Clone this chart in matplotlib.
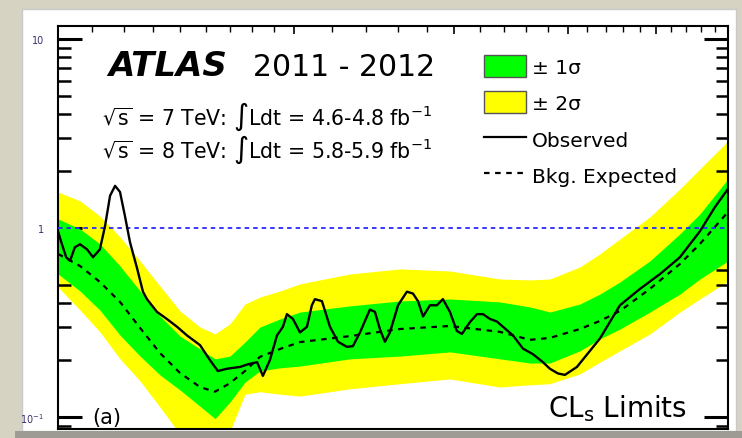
import matplotlib
matplotlib.use("Agg")
import matplotlib.pyplot as plt
from matplotlib.patches import Rectangle, Patch
from matplotlib.lines import Line2D
from matplotlib.ticker import FixedLocator, FixedFormatter, NullFormatter, LogLocator

# Higgs mass points (GeV) and 95% CL limit on sigma/sigma_SM
obs_mass = [110, 111.1, 112.3, 113.4, 114.8, 116.3, 118.4, 120.2, 122.3, 123.9,
            125.5, 127.1, 128.7, 130.3, 132.0, 134.4, 136.4, 137.8, 141.3, 144.9,
            148.7, 152.5, 157.6, 161.6, 164.9, 168.7, 174.4, 177.9, 182.1, 184.8,
            188.1, 191.5, 194.4, 196.4, 199.4, 203.0, 206.6, 209.2, 210.8, 214.6,
            219.0, 223.5, 228.6, 232.1, 236.3, 242.3, 245.4, 248.6, 251.7, 254.9,
            260.2, 266.1, 270.2, 273.7, 277.2, 282.1, 287.1, 291.5, 296.7, 302.0,
            305.9, 312.2, 317.8, 322.6, 328.4, 334.2, 339.4, 348.1, 357.0, 366.1,
            375.5, 382.2, 390.0, 397.0, 409.3, 433.8, 456.4, 480.1, 505.0, 531.2,
            558.8, 580.5, 600]
observed = [0.96, 0.82, 0.70, 0.67, 0.79, 0.82, 0.77, 0.70, 0.77, 1.02,
            1.48, 1.67, 1.55, 1.16, 0.84, 0.61, 0.46, 0.42, 0.36, 0.33,
            0.30, 0.27, 0.24, 0.20, 0.175, 0.18, 0.184, 0.19, 0.195, 0.165,
            0.20, 0.27, 0.30, 0.35, 0.33, 0.28, 0.30, 0.39, 0.42, 0.41,
            0.30, 0.25, 0.235, 0.237, 0.28, 0.37, 0.36, 0.29, 0.25, 0.28,
            0.39, 0.46, 0.45, 0.41, 0.34, 0.39, 0.39, 0.42, 0.36, 0.285,
            0.275, 0.318, 0.35, 0.35, 0.33, 0.32, 0.30, 0.27, 0.23, 0.215,
            0.195, 0.18, 0.17, 0.167, 0.184, 0.26, 0.39, 0.476, 0.57, 0.70,
            0.96, 1.29, 1.61]

exp_mass = [110, 116.3, 122.3, 128.7, 135.4, 142.4, 149.8, 157.6, 163.7, 170.0,
            176.6, 183.4, 193.0, 203.0, 230.4, 261.5, 296.7, 336.8, 363.4, 382.2,
            412.4, 433.8, 456.4, 492.3, 531.2, 558.8, 600]
expected = [0.729, 0.629, 0.518, 0.406, 0.296, 0.218, 0.171, 0.144, 0.136, 0.151,
            0.175, 0.208, 0.229, 0.249, 0.268, 0.292, 0.303, 0.282, 0.256, 0.262,
            0.292, 0.322, 0.364, 0.476, 0.645, 0.823, 1.215]
green_hi = [1.116, 0.988, 0.823, 0.629, 0.464, 0.342, 0.268, 0.229, 0.203, 0.210,
            0.249, 0.299, 0.330, 0.359, 0.387, 0.411, 0.421, 0.406, 0.382, 0.359,
            0.396, 0.447, 0.518, 0.669, 0.930, 1.186, 1.816]
green_lo = [0.571, 0.464, 0.368, 0.271, 0.210, 0.167, 0.139, 0.114, 0.098, 0.120,
            0.153, 0.175, 0.182, 0.186, 0.203, 0.210, 0.221, 0.203, 0.193, 0.193,
            0.224, 0.259, 0.292, 0.359, 0.447, 0.537, 0.669]
yellow_hi = [1.550, 1.390, 1.157, 0.896, 0.669, 0.493, 0.364, 0.299, 0.275, 0.311,
             0.396, 0.431, 0.464, 0.506, 0.571, 0.607, 0.592, 0.537, 0.531, 0.537,
             0.622, 0.729, 0.875, 1.144, 1.608, 2.052, 2.886]
yellow_lo = [0.487, 0.368, 0.282, 0.203, 0.155, 0.113, 0.081, 0.064, 0.060, 0.084,
             0.132, 0.136, 0.132, 0.129, 0.141, 0.150, 0.159, 0.144, 0.148, 0.150,
             0.169, 0.195, 0.224, 0.275, 0.359, 0.421, 0.524]

x_major = [200, 300, 400, 500]
x_minor = [120, 130, 140, 150, 160, 170, 180, 190, 220, 240, 260, 280, 320, 340,
           360, 380, 420, 440, 460, 480, 520, 540, 560, 580]

W, H = 742, 439
fig = plt.figure(figsize=(W / 100, H / 100), dpi=100)
fig.patch.set_facecolor('#d6d3c3')

# photo frame look
fig.add_artist(Rectangle((22 / W, 7 / H), 714 / W, 422 / H, transform=fig.transFigure,
                         facecolor='white', edgecolor='#c9c9c9', lw=1, zorder=-2))
fig.add_artist(Rectangle((15 / W, 0), 727 / W, 7 / H, transform=fig.transFigure,
                         facecolor='#9d9b93', edgecolor='none', zorder=-1))

ax = fig.add_axes([58 / W, 9 / H, 670 / W, 403 / H])
ax.set_xscale('log')
ax.set_yscale('log')
ax.set_xlim(110, 600)
ax.set_ylim(0.0864, 11.7)

ax.fill_between(exp_mass, yellow_lo, yellow_hi, color='#ffff00', lw=0, zorder=1)
ax.fill_between(exp_mass, green_lo, green_hi, color='#00ff00', lw=0, zorder=2)
ax.axhline(1, color='#2a2aff', ls=(0, (2.5, 2.2)), lw=1.3, zorder=3)
ax.plot(exp_mass, expected, color='black', ls=(0, (2.5, 2.5)), lw=1.6, zorder=4)
ax.plot(obs_mass, observed, color='black', lw=1.7, zorder=5)

for s in ax.spines.values():
    s.set_linewidth(1.5)

ax.xaxis.set_major_locator(FixedLocator(x_major))
ax.xaxis.set_minor_locator(FixedLocator(x_minor))
ax.xaxis.set_major_formatter(NullFormatter())
ax.xaxis.set_minor_formatter(NullFormatter())
ax.tick_params(axis='x', which='both', direction='in', top=True, bottom=False,
               labelbottom=False, labeltop=False)
ax.tick_params(axis='x', which='major', length=6, width=1.2)
ax.tick_params(axis='x', which='minor', length=4, width=1.0)

ax.yaxis.set_major_locator(FixedLocator([0.1, 1, 10]))
ax.yaxis.set_major_formatter(FixedFormatter(['10$^{-1}$', '1', '10']))
ax.yaxis.set_minor_locator(LogLocator(base=10, subs=range(2, 10)))
ax.yaxis.set_minor_formatter(NullFormatter())
ax.tick_params(axis='y', which='both', direction='in', left=True, right=True)
ax.tick_params(axis='y', which='major', length=17, width=2.2, labelsize=7,
               labelcolor='#3b2d6e', pad=10)
ax.tick_params(axis='y', which='minor', length=9, width=1.8)

def fx(px):
    return (px - 58) / 670

def fy(py):
    return (430 - py) / 403

ax.text(fx(108), fy(76), 'ATLAS', fontsize=24.5, fontweight='bold', fontstyle='italic',
        va='baseline', ha='left', transform=ax.transAxes)
ax.text(fx(253), fy(76), '2011 - 2012', fontsize=21.5, va='baseline', ha='left',
        transform=ax.transAxes)
ax.text(fx(102), fy(125), r'$\sqrt{\mathrm{s}}$ = 7 TeV: $\int$Ldt = 4.6-4.8 fb$^{-1}$',
        fontsize=14.8, va='baseline', ha='left', transform=ax.transAxes)
ax.text(fx(102), fy(158), r'$\sqrt{\mathrm{s}}$ = 8 TeV: $\int$Ldt = 5.8-5.9 fb$^{-1}$',
        fontsize=14.8, va='baseline', ha='left', transform=ax.transAxes)
ax.text(fx(92), fy(424), '(a)', fontsize=15, va='baseline', ha='left',
        transform=ax.transAxes)
ax.text(fx(687), fy(417), r'CL$_\mathrm{s}$ Limits', fontsize=20, va='baseline',
        ha='right', transform=ax.transAxes)

handles = [Patch(facecolor='#00ff00', edgecolor='#555555', lw=1),
           Patch(facecolor='#ffff00', edgecolor='#555555', lw=1),
           Line2D([], [], color='black', lw=1.6),
           Line2D([], [], color='black', lw=1.6, ls=(0, (2.5, 2.5)))]
labels = ['± 1σ', '± 2σ', 'Observed', 'Bkg. Expected']
ax.legend(handles, labels, loc='upper left', bbox_to_anchor=(fx(484), fy(56)),
          frameon=False, fontsize=14.5, handlelength=2.1, handleheight=1.3,
          labelspacing=0.72, handletextpad=0.3, borderpad=0, borderaxespad=0)

plt.savefig('out.png', dpi=100, facecolor=fig.get_facecolor())
